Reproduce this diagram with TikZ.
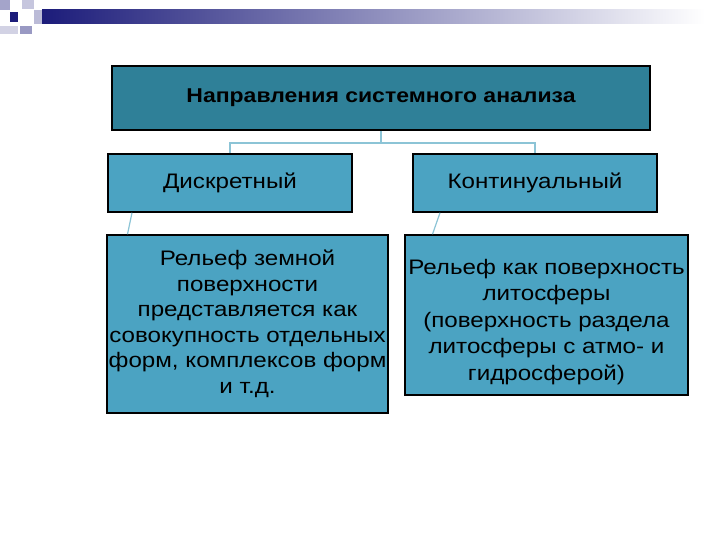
\documentclass[tikz,border=0pt]{standalone}
\usepackage{fontspec}
\setmainfont[FakeStretch=1.15]{Liberation Sans}
\begin{document}
\begin{tikzpicture}[x=1pt,y=-1pt,
  box/.style={draw=black,line width=1.6pt,fill=boxc,align=center,inner sep=0pt},
  conn/.style={draw=linec,line width=1.2pt}]
\definecolor{boxc}{HTML}{4BA3C2}
\definecolor{topc}{HTML}{2F8098}
\definecolor{linec}{HTML}{8CC4D6}
\definecolor{navy}{HTML}{1C1C7A}
\useasboundingbox (0,0) rectangle (720,540);
% header decoration
\shade[left color=navy,right color=white] (42,10) rectangle (705,24);
\fill[navy!40] (0,0) rectangle (10,10);
\fill[navy!25] (22,0) rectangle (34,9);
\fill[navy] (10,12) rectangle (18,22);
\fill[navy!20] (0,26) rectangle (18,34);
\fill[navy!45] (20,26) rectangle (32,34);
\fill[navy!30] (34,10) rectangle (42,24);
% boxes
\node[box,fill=topc,minimum width=538,minimum height=64,font=\bfseries\fontsize{20}{22}\selectfont] (top) at (381,98) {Направления системного анализа};
\node[box,minimum width=244,minimum height=58,font=\fontsize{21}{23}\selectfont] (d) at (230,183) {Дискретный};
\node[box,minimum width=244,minimum height=58,font=\fontsize{21}{23}\selectfont] (k) at (535,183) {Континуальный};
\node[box,minimum width=281,minimum height=178,font=\fontsize{21}{25.5}\selectfont] (dl) at (247.5,324) {Рельеф земной\\поверхности\\представляется как\\совокупность отдельных\\форм, комплексов форм\\и т.д.};
\node[box,minimum width=283,minimum height=160,font=\fontsize{21}{26.5}\selectfont] (kl) at (546.5,315) {};
\node[align=center,inner sep=0pt,font=\fontsize{21}{26.5}\selectfont] (klt) at (546.5,322) {Рельеф как поверхность\\литосферы\\(поверхность раздела\\литосферы с атмо- и\\гидросферой)};
% connectors
\coordinate (j) at (381,143);
\draw[conn] (top.south) -- (j);
\draw[conn] (d.north) -- (230,143) -- (535,143) -- (k.north);
\draw[conn] ([xshift=-98pt]d.south) -- ([xshift=-120pt]dl.north);
\draw[conn] ([xshift=-95pt]k.south) -- ([xshift=-114pt]kl.north);
\end{tikzpicture}
\end{document}
